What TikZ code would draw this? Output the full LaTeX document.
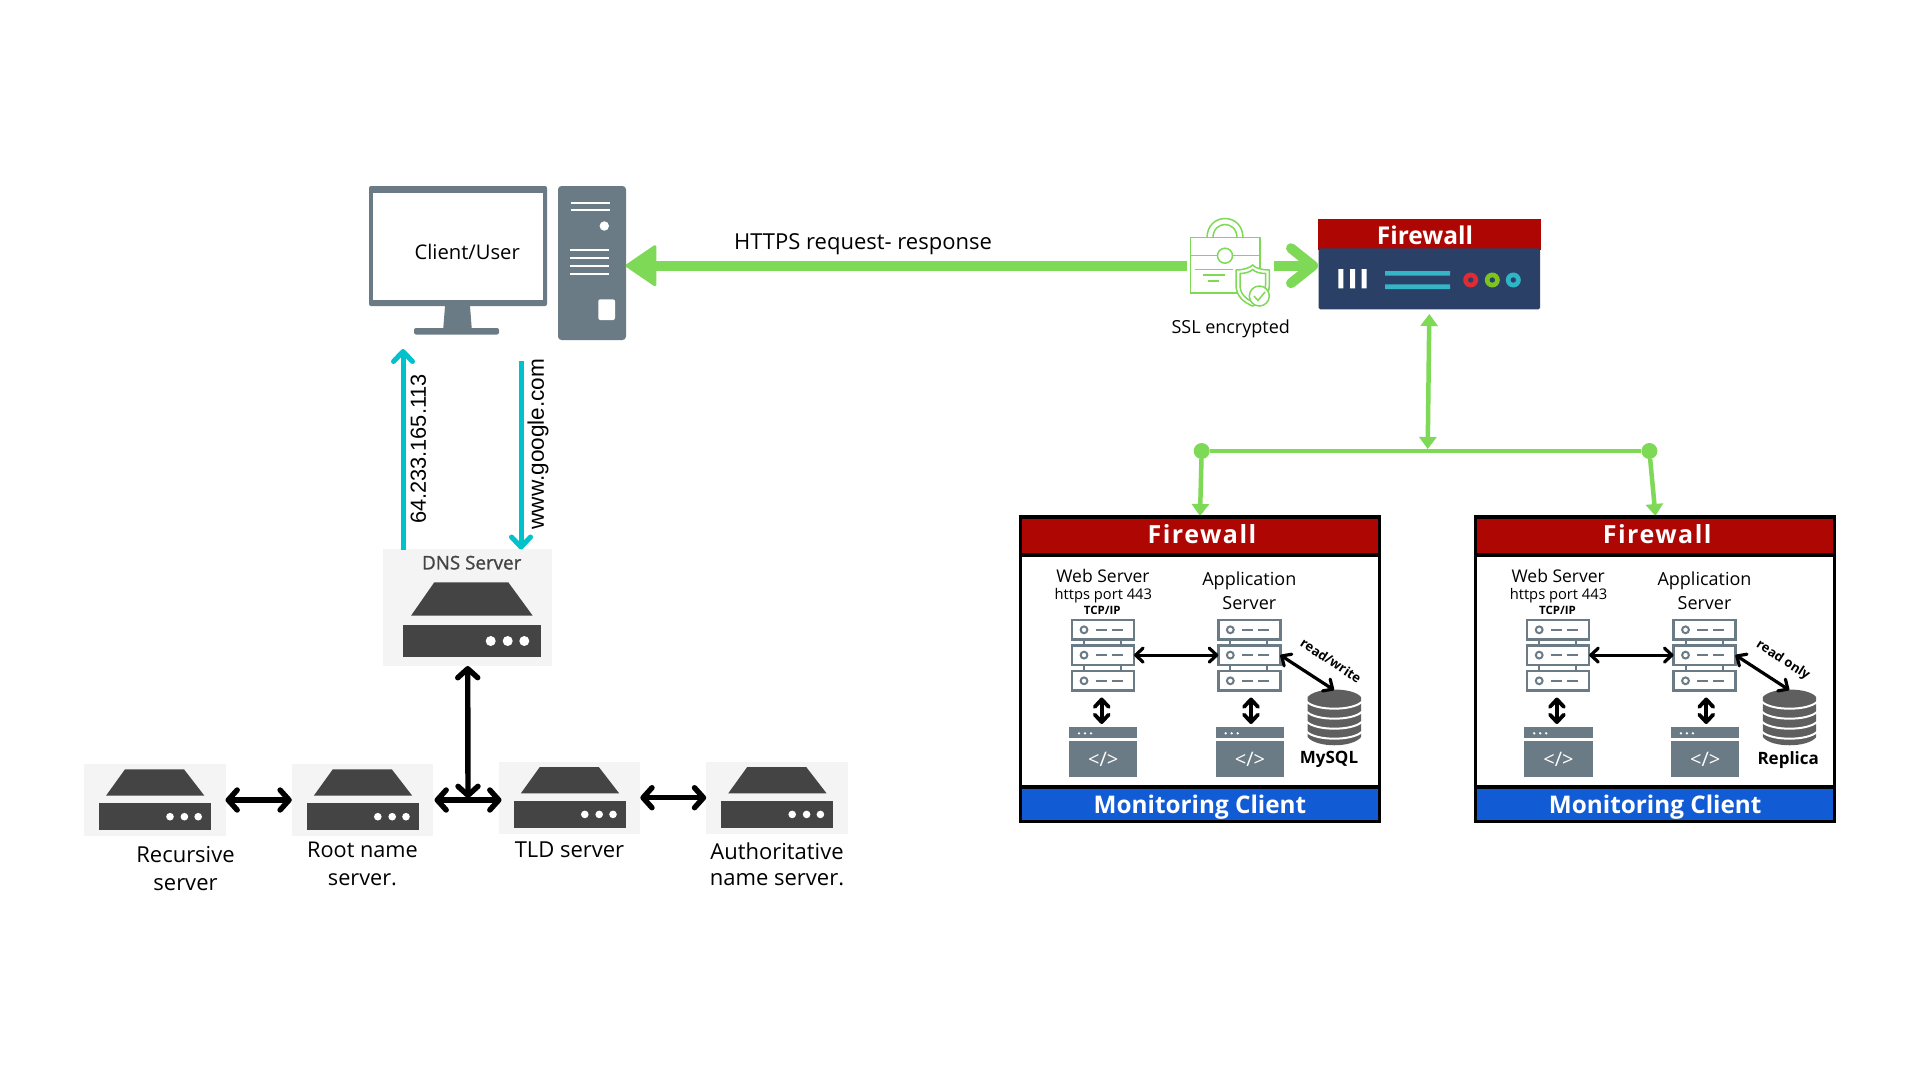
\documentclass[tikz,border=0pt]{standalone}
\usepackage{fontspec}
\setmainfont{Open Sans}
\newfontfamily\arialish{Liberation Sans}
\newfontfamily\dnsfont[FakeBold=1.2]{Open Sans}
\usetikzlibrary{arrows.meta}
\definecolor{slate}{HTML}{6B7B85}
\definecolor{darksrv}{HTML}{444444}
\definecolor{panelbg}{HTML}{F4F4F4}
\definecolor{lime}{HTML}{7ED957}
\definecolor{teal}{HTML}{00C2CB}
\definecolor{fwred}{HTML}{AD0603}
\definecolor{navy}{HTML}{2A4066}
\definecolor{monblue}{HTML}{115BD4}
\definecolor{fwteal}{HTML}{35B5C5}
\definecolor{dbgray}{HTML}{5F5F5F}
\newcommand{\fsz}[1]{\fontsize{#1}{#1}\selectfont}
\tikzset{
  txt/.style={inner sep=0,outer sep=0,align=center,text=black},
  panel/.style={fill=panelbg,draw=none,inner sep=0,outer sep=0},
  rackunit/.style={draw=slate,fill=white,line width=2.4pt,inner sep=0,outer sep=0,minimum width=62pt,minimum height=19.5pt},
  blackdbl/.style={draw=black,line width=#1,{Straight Barb[round,length=7.5pt,width=14pt]}-{Straight Barb[round,length=7.5pt,width=14pt]}},
  bigdbl/.style={draw=black,line width=5.4pt,{Straight Barb[round,length=9pt,width=20pt]}-{Straight Barb[round,length=9pt,width=20pt]}},
  tealarrow/.style={draw=teal,line width=5pt,-{Straight Barb[round,length=10pt,width=19pt]}},
  limedbl/.style={draw=lime,line width=4.5pt,{Triangle[length=12pt,width=17pt]}-{Triangle[length=12pt,width=17pt]}},
  limeone/.style={draw=lime,line width=4.5pt,-{Triangle[length=12pt,width=17pt]}},
  limeln/.style={draw=lime,line width=1.5pt},
}
% small DNS-family server icon: name, left, top
\newcommand{\srvicon}[3]{%
  \begin{scope}[shift={(#2,#3)}]
    \node[panel,minimum width=141.5pt,minimum height=72pt] (#1) at (70.75,36) {};
    \fill[darksrv] (41,5.3) -- (100,5.3) -- (120.4,31.7) -- (22,31.7) -- cycle;
    \fill[darksrv] (15.2,39.3) rectangle (127,66);
    \fill[white] (86,52.7) circle (3.8) (100.4,52.7) circle (3.8) (114.2,52.7) circle (3.8);
  \end{scope}}
\newcommand{\rackat}[2]{% prefix, center x
  \node[rackunit] (#1u1) at (#2,629.8) {};
  \node[rackunit] (#1u2) at (#2,655.1) {};
  \node[rackunit] (#1u3) at (#2,680.8) {};
  \draw[slate,line width=2pt] (#2-19,640.5) -- (#2-19,644.5) (#2+18,640.5) -- (#2+18,644.5)
     (#2-19,666) -- (#2-19,670) (#2+18,666) -- (#2+18,670);
  \foreach \yy in {629.8,655.1,680.8}{
    \draw[slate,line width=2pt] (#2-19,\yy) circle (3.4);
    \draw[slate,line width=2pt] (#2-7.3,\yy) -- (#2+3.7,\yy) (#2+8.7,\yy) -- (#2+19.7,\yy);
  }}
\newcommand{\codewin}[2]{% name, left x
  \fill[slate] (#2,727.3) rectangle (#2+68.3,738.3);
  \fill[white] (#2+10,733.3) circle (1.3) (#2+16,733.3) circle (1.3) (#2+22,733.3) circle (1.3);
  \fill[slate] (#2,741) rectangle (#2+68.3,776.7);
  \node[txt,text=white] (#1) at (#2+34.3,759.5) {\fsz{20}</>};}
% application box: prefix, shift, database name, rotated label, label x, database-name x
\newcommand{\appbox}[6]{%
  \begin{scope}[xshift=#2pt]
    \fill[black] (1018.7,515.3) rectangle (1381,823.3);
    \fill[fwred] (1021.7,518.6) rectangle (1378,552.7);
    \fill[white] (1021.7,556.7) rectangle (1378,785);
    \fill[monblue] (1021.7,789) rectangle (1378,820);
    \node[txt,text=white] (#1fwt) at (1202,534.5) {\fsz{25}\addfontfeatures{LetterSpace=6}\bfseries Firewall};
    \node[txt,text=white] (#1mon) at (1200,807) {\fsz{24.3}\bfseries Monitoring Client};
    \node[txt] (#1web) at (1103,576) {\fsz{17.5}Web Server};
    \node[txt] (#1port) at (1103.3,595.3) {\fsz{14.7}https port 443};
    \node[txt] (#1tcp) at (1102.3,610) {\fsz{11.5}\bfseries TCP/IP};
    \node[txt] (#1app) at (1249.3,580.8) {\fsz{18}Application};
    \node[txt] (#1srv) at (1249.3,602.7) {\fsz{18}Server};
    \rackat{#1w}{1103}
    \rackat{#1a}{1249.3}
    \codewin{#1c1}{1069}
    \codewin{#1c2}{1215.7}
    \coordinate (#1v1a) at (1101.7,697.5);
    \coordinate (#1v1b) at (1101.7,724);
    \coordinate (#1v2a) at (1251,697.5);
    \coordinate (#1v2b) at (1251,724);
    \draw[blackdbl=3.8pt] (#1v1a) -- (#1v1b);
    \draw[blackdbl=3.8pt] (#1v2a) -- (#1v2b);
    \draw[blackdbl=3.2pt] (#1wu2.east) -- (#1au2.west);
    \fill[dbgray] (1307.7,697) .. controls (1315.7,687) and (1353,687) .. (1361,697) -- (1361,737)
       .. controls (1353,748) and (1315.7,748) .. (1307.7,737) -- cycle;
    \foreach \yy in {701.7,711.7,721.7,731.7}{
      \draw[white,line width=2pt] (1306.7,\yy) .. controls (1316,\yy+9.3) and (1352.7,\yy+9.3) .. (1362,\yy);
    }
    \coordinate (#1db) at (1334,690);
    \draw[blackdbl=3.2pt] (#1au2.east) -- (#1db);
    \node[txt,rotate=-33] (#1rw) at (#5,660.5) {\fsz{13}\bfseries #4};
    \node[txt] (#1dbn) at (#6,759.8) {\fsz{17}\bfseries #3};
  \end{scope}}
\begin{document}
\begin{tikzpicture}[x=1pt,y=-1pt]
\useasboundingbox (0,0) rectangle (1920,1080);
\fill[white] (0,0) rectangle (1920,1080);

% client
\fill[slate,rounded corners=2pt] (369,186) rectangle (547,306);
\node[draw=none,fill=white,inner sep=0,outer sep=0,minimum width=170pt,minimum height=107.5pt] (screen) at (457.85,246.25) {};
\node[txt] (client) at (467.2,252.3) {\fsz{20.2}Client/User};
\fill[slate] (445,306) -- (470,306) -- (471.7,328) -- (443.3,328) -- cycle;
\fill[slate,rounded corners=2pt] (414,328) rectangle (499,334.5);
\node[fill=slate,rounded corners=3.5pt,inner sep=0,outer sep=0,minimum width=68pt,minimum height=154pt] (tower) at (592,263) {};
\draw[white,line width=2.3pt] (571,203.3) -- (610,203.3) (571,210) -- (610,210);
\fill[white] (604.3,226) circle (4.7);
\draw[white,line width=2.3pt] (570,250.3) -- (609,250.3) (570,258.3) -- (609,258.3) (570,266.3) -- (609,266.3) (570,274.3) -- (609,274.3);
\fill[white,rounded corners=2pt] (598.3,299.3) rectangle (615,320);

% lock icon
\draw[limeln] (1190.7,237.7) rectangle (1260,293);
\draw[limeln] (1190.7,255.7) -- (1260,255.7);
\draw[limeln] (1207,238) .. controls (1207,212) and (1243,212) .. (1243,238);
\draw[limeln] (1213,238) .. controls (1213,220) and (1237,220) .. (1237,238);
\filldraw[limeln,fill=white] (1225,255.7) circle (7.5);
\draw[limeln] (1195,269.3) -- (1233,269.3) (1203,275) -- (1225,275) (1208,281) -- (1219,281);
\filldraw[limeln,fill=white] (1252.7,265) .. controls (1255,268) and (1262,270) .. (1269.3,270) -- (1269.3,285)
   .. controls (1269.3,297) and (1260,303) .. (1252.7,306) .. controls (1245,303) and (1236,297) .. (1236,285)
   -- (1236,270) .. controls (1243,270) and (1250,268) .. (1252.7,265) -- cycle;
\draw[limeln] (1252.7,269.5) .. controls (1255,272) and (1260,273.5) .. (1265.5,273.5) -- (1265.5,285)
   .. controls (1265.5,294) and (1259,299) .. (1252.7,302) .. controls (1246,299) and (1240,294) .. (1240,285)
   -- (1240,273.5) .. controls (1245,273.5) and (1250,272) .. (1252.7,269.5) -- cycle;
\filldraw[limeln,fill=white] (1259.3,296) circle (10);
\draw[limeln] (1254,296) -- (1258,300.5) -- (1265,292);
\node[txt] (ssl) at (1230.7,328.5) {\fsz{18}SSL encrypted};

% edge firewall
\fill[fwred] (1318.3,219) rectangle (1540.7,250);
\node[fill=navy,rounded corners=1.5pt,inner sep=0,outer sep=0,minimum width=221.3pt,minimum height=61pt] (fwmain) at (1429.35,278.8) {};
\node[txt,text=white] (fwtitle) at (1425,235) {\fsz{24.5}\bfseries Firewall};
\fill[white] (1338.3,269) rectangle (1343.3,288.3) (1350,269) rectangle (1355,288.3) (1361.7,269) rectangle (1366.7,288.3);
\fill[fwteal] (1385,271) rectangle (1450,275.7) (1385,284.3) rectangle (1450,289);
\foreach \cx/\cc in {1470.7/E02B35,1492.3/7EC41F,1513.3/2FB5C8}{
  \definecolor{ringc}{HTML}{\cc}
  \fill[ringc] (\cx,280) circle (7.5);
  \fill[navy] (\cx,280) circle (2.7);
}

% https link
\coordinate (towerport) at (625.5,265.7);
\coordinate (lockleft) at (1187,265.7);
\coordinate (lockright) at (1274,265.7);
\coordinate (fwport) at (1318,265.7);
\draw[lime,line width=10pt,{Triangle[round,length=32pt,width=43pt,line width=3pt]}-] (towerport) -- (lockleft);
\draw[lime,line width=10pt,-{Straight Barb[round,length=22pt,width=35pt]}] (lockright) -- (fwport);
\node[txt] (https) at (863,244.5) {\fsz{22}HTTPS request- response};

% distribution
\node[fill=lime,circle,inner sep=0,outer sep=0,minimum size=16pt] (dotl) at (1201.7,451) {};
\node[fill=lime,circle,inner sep=0,outer sep=0,minimum size=16pt] (dotr) at (1649.4,451) {};
\draw[lime,line width=4.5pt] (dotl) -- (dotr);
\coordinate (fwfoot) at (1429.3,314);
\coordinate (bustap) at (1427.7,449);
\draw[limedbl] (fwfoot) -- (bustap);
\coordinate (boxtopl) at (1200,516);
\coordinate (boxtopr) at (1655.5,516);
\draw[limeone] (dotl) -- (boxtopl);
\draw[limeone] (dotr) -- (boxtopr);

% boxes
\appbox{a}{0}{MySQL}{read/write}{1331}{1329}
\appbox{b}{455.2}{Replica}{read only}{1327.7}{1333}

% dns
\node[panel,minimum width=169pt,minimum height=116.4pt] (dns) at (467.8,607.5) {};
\fill[darksrv] (434.3,582.3) -- (508.3,582.3) -- (532.7,615.7) -- (411,615.7) -- cycle;
\fill[darksrv] (402.7,625) rectangle (541,657.3);
\fill[white] (490.7,641) circle (5) (507.7,641) circle (5) (524.3,641) circle (5);
\node[txt,text=darksrv] (dnst) at (471.7,562.7) {\dnsfont\fsz{18.8}DNS Server};
\coordinate (dnsoutl) at (403,549.5);
\coordinate (clientinl) at (403,349);
\coordinate (clientoutr) at (521,361);
\coordinate (dnsinr) at (521,549.5);
\draw[tealarrow] (dnsoutl) -- (clientinl);
\draw[tealarrow] (clientoutr) -- (dnsinr);
\node[txt,rotate=90] (ip) at (418.3,449) {\arialish\fsz{21.8}64.233.165.113};
\node[txt,rotate=90] (url) at (538,444) {\arialish\fsz{22.6}www.google.com};

% name servers
\srvicon{rec}{84}{764}
\srvicon{root}{291.8}{764}
\srvicon{tld}{498.8}{761.7}
\srvicon{auth}{706.2}{761.7}
\node[txt] (rect) at (185.5,855) {\fsz{22}Recursive};
\node[txt] (rect2) at (185.5,885) {\fsz{22}server};
\node[txt] (roott) at (362.5,850) {\fsz{21.7}Root name};
\node[txt] (roott2) at (362.5,879.3) {\fsz{21.7}server.};
\node[txt] (tldt) at (569.5,850) {\fsz{22}TLD server};
\node[txt] (autht) at (777,851) {\fsz{22}Authoritative};
\node[txt] (autht2) at (777,880) {\fsz{22}name server.};
\coordinate (rootout) at (434.5,800);
\coordinate (tldin) at (501.5,800);
\coordinate (dnsfoot) at (467.7,666);
\coordinate (rootjoin) at (468,798);
\draw[bigdbl] (rec.east) -- (root.west);
\draw[bigdbl] (rootout) -- (tldin);
\draw[bigdbl] (tld.east) -- (auth.west);
\draw[bigdbl] (dnsfoot) -- (rootjoin);
\end{tikzpicture}
\end{document}
